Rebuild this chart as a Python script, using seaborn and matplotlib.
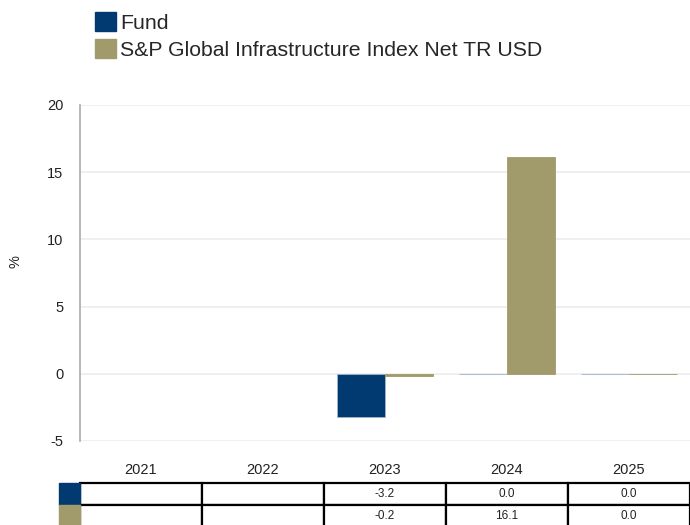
import numpy as np
import pandas as pd
import matplotlib
matplotlib.use("Agg")
import matplotlib.pyplot as plt
import seaborn as sns
from matplotlib.patches import Rectangle

years = ["2021", "2022", "2023", "2024", "2025"]
fund = [np.nan, np.nan, -3.2, 0.0, 0.0]
bench = [np.nan, np.nan, -0.2, 16.1, 0.0]
series_names = ["Fund", "S&P Global Infrastructure Index Net TR USD"]
colors = ["#003A70", "#A19A6B"]
yticks = [-5, 0, 5, 10, 15, 20]

sns.set_theme(style="white")
plt.rcParams["font.family"] = ["Liberation Sans", "DejaVu Sans"]

df = pd.DataFrame({
    "year": years * 2,
    "value": fund + bench,
    "series": [series_names[0]] * 5 + [series_names[1]] * 5,
})

fig = plt.figure(figsize=(6.9, 5.25), dpi=100)
ax = fig.add_axes([80 / 690, 1 - 441 / 525, 610 / 690, 336 / 525])

sns.barplot(data=df, x="year", y="value", hue="series", order=years,
            hue_order=series_names, palette=colors, width=0.78, saturation=1,
            linewidth=0.6, ax=ax, legend=False, errorbar=None)

for cont, ec in zip(ax.containers, ["#9fb6cc", "#A19A6B"]):
    for p in cont:
        p.set_edgecolor(ec)

ax.set_ylim(-5, 20)
ax.set_yticks(yticks)
ax.set_yticklabels([str(t) for t in yticks], fontsize=10.5, color="#222222")
ax.set_xlim(-0.5, 4.5)
ax.set_xlabel("")
ax.set_ylabel("%", fontsize=10.5, color="#222222")
ax.yaxis.set_label_coords(-58 / 610, (441 - 262) / 336)
ax.tick_params(axis="y", length=0, pad=12)
ax.tick_params(axis="x", length=0, pad=16, labelsize=10.5, labelcolor="#222222")
ax.grid(axis="y", color="#ececec", linewidth=1.2)
ax.set_axisbelow(True)
for s in ["top", "right", "bottom"]:
    ax.spines[s].set_visible(False)
ax.spines["left"].set_color("#aaaaaa")
ax.spines["left"].set_linewidth(1.2)

# Legend
handles = [Rectangle((0, 0), 1, 1, color=c) for c in colors]
fig.legend(handles, series_names, loc="upper left", bbox_to_anchor=(80 / 690, 1.005),
           frameon=False, fontsize=15.3, handlelength=1.0, handleheight=1.0,
           handletextpad=0.2, labelspacing=0.3, borderaxespad=0.3)

# Data table
def fmt(v):
    return "" if np.isnan(v) else f"{v:.1f}"

cell_text = [[fmt(v) for v in fund], [fmt(v) for v in bench]]
axh = 336.0
top = (441 - 483) / axh
rh = 22 / axh
tbl = ax.table(cellText=cell_text, cellLoc="center",
               bbox=[0, top - 2 * rh, 1, 2 * rh])
tbl.auto_set_font_size(False)
tbl.set_fontsize(8.5)
for (r, c), cell in tbl.get_celld().items():
    cell.set_edgecolor("black")
    cell.set_linewidth(1.6)
    cell.get_text().set_color("#222222")
for i, c in enumerate(colors):
    ax.add_patch(Rectangle((-21 / 610, top - (i + 1) * rh), 21 / 610, rh,
                           transform=ax.transAxes, color=c, clip_on=False))

fig.savefig("out.png", dpi=100)
